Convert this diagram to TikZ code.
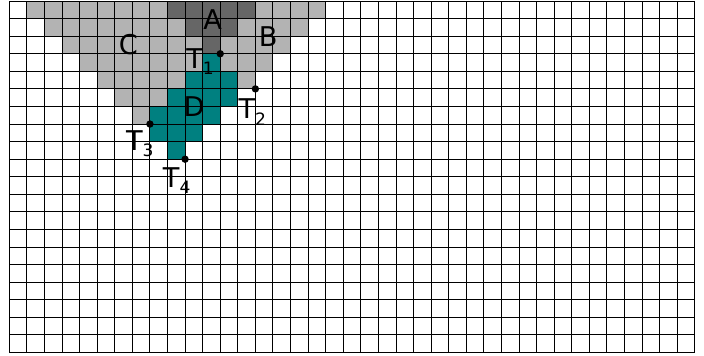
\documentclass[tikz,border=0pt]{standalone}
\usepackage{fontspec}
\setmainfont{DejaVu Sans}
\newcommand{\mysub}[1]{\raisebox{-5pt}{\fontsize{13.8}{13.8}\selectfont #1}}
\definecolor{lightg}{HTML}{B3B3B3}
\definecolor{darkg}{HTML}{666666}
\definecolor{tealc}{HTML}{008080}
\begin{document}
\begin{tikzpicture}[x=0.5cm,y=0.5cm,
  gridline/.style={draw=black,line width=0.8pt},
  lbl/.style={inner sep=0pt,anchor=base,font=\fontsize{22}{22}\selectfont},
  dotnode/.style={circle,fill=black,inner sep=0pt,minimum size=0.21cm}]
\useasboundingbox (-0.53,0.057) rectangle (39.52,-20.19);
% light gray runs: row/first/last
\foreach \r/\a/\b in {0/1/8,0/14/17,1/2/9,1/13/16,2/3/10,2/12/15,3/4/10,3/12/14,4/5/9,4/13/13,5/6/8,6/7/7}
  \fill[lightg] (\a,-\r) rectangle ({\b+1},{-\r-1});
% dark gray runs
\foreach \r/\a/\b in {0/9/13,1/10/12,2/11/11}
  \fill[darkg] (\a,-\r) rectangle ({\b+1},{-\r-1});
% teal runs
\foreach \r/\a/\b in {3/11/11,4/10/12,5/9/12,6/8/11,7/8/10,8/9/9}
  \fill[tealc] (\a,-\r) rectangle ({\b+1},{-\r-1});
% grid
\foreach \i in {0,...,39} \draw[gridline] (\i,0) -- (\i,-20);
\foreach \j in {0,...,20} \draw[gridline] (0,-\j) -- (39,-\j);
% labels
\node[lbl] (la) at (11.57,-1.61) {A};
\node[lbl] (lb) at (14.73,-2.60) {B};
\node[lbl] (lc) at (6.77,-3.07) {C};
\node[lbl] (ld) at (10.51,-6.58) {D};
\node[lbl] (t1) at (10.85,-3.83) {T\mysub{1}};
\node[lbl] (t2) at (13.82,-6.71) {T\mysub{2}};
\node[lbl] (t3) at (7.42,-8.48) {T\mysub{3}};
\node[lbl] (t4) at (9.52,-10.60) {T\mysub{4}};
% points
\node[dotnode] (p1) at (12,-3) {};
\node[dotnode] (p2) at (14,-5) {};
\node[dotnode] (p3) at (8,-7) {};
\node[dotnode] (p4) at (10,-9) {};
\end{tikzpicture}
\end{document}
